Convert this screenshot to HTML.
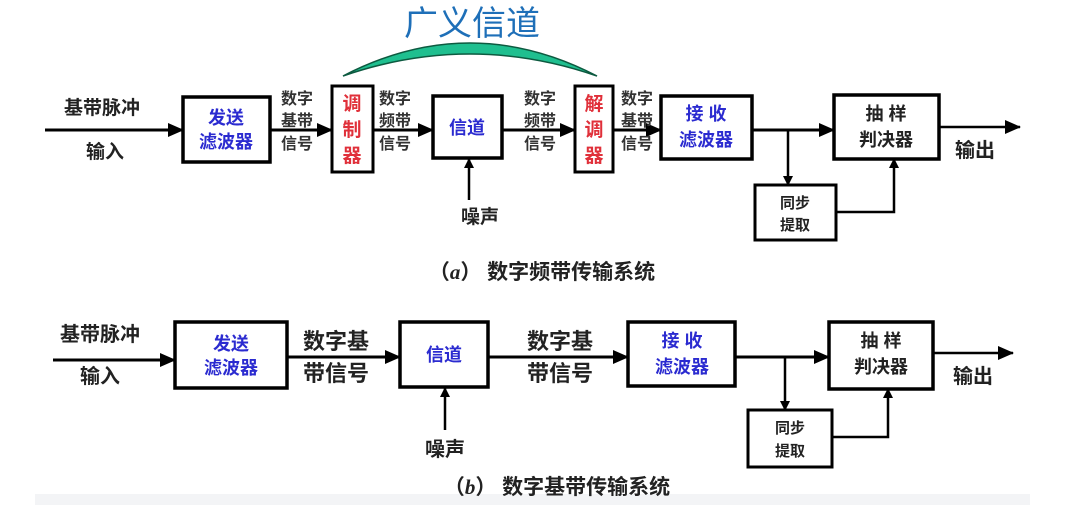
<!DOCTYPE html>
<html><head><meta charset="utf-8"><style>
html,body{margin:0;padding:0;background:#fff;}
svg{display:block;}
text{font-family:"Liberation Sans","Noto Sans CJK SC",sans-serif;font-weight:bold;}
</style></head><body>
<svg width="1073" height="505" viewBox="0 0 1073 505" xmlns="http://www.w3.org/2000/svg">
<defs>
<marker id="ar" markerWidth="10" markerHeight="10" refX="9" refY="5" orient="auto" markerUnits="userSpaceOnUse">
<path d="M0,0 L10,5 L0,10 Z" fill="#000"/></marker>
<marker id="ab" markerWidth="16" markerHeight="14" refX="15" refY="7" orient="auto" markerUnits="userSpaceOnUse">
<path d="M0,0 L16,7 L0,14 Z" fill="#000"/></marker>
</defs>
<rect x="35" y="494" width="995" height="11" fill="#f3f4f6"/>
<text x="472" y="35" font-size="34" fill="#1e6fb8" text-anchor="middle" style="font-weight:normal">广义信道</text>
<path d="M343,76 Q470,10 597,76 Q470,32 343,76 Z" fill="#1fbf8f" stroke="#0d5a40" stroke-width="1.5"/>

<g stroke="#000" fill="none">
<rect x="183" y="97" width="87" height="65" stroke-width="3.5"/>
<rect x="332" y="86" width="41" height="86" stroke-width="3"/>
<rect x="433" y="96" width="69" height="62" stroke-width="3.5"/>
<rect x="575" y="86" width="38" height="86" stroke-width="3"/>
<rect x="661" y="96" width="91" height="63" stroke-width="3.5"/>
<rect x="834" y="95" width="105" height="64" stroke-width="3.5"/>
<rect x="755" y="185" width="81" height="55" stroke-width="3"/>
<line x1="45" y1="130" x2="183" y2="130" stroke-width="3" marker-end="url(#ab)"/>
<line x1="270" y1="130" x2="332" y2="130" stroke-width="3" marker-end="url(#ab)"/>
<line x1="373" y1="130" x2="433" y2="130" stroke-width="3" marker-end="url(#ab)"/>
<line x1="502" y1="130" x2="575" y2="130" stroke-width="3" marker-end="url(#ab)"/>
<line x1="613" y1="130" x2="661" y2="130" stroke-width="3" marker-end="url(#ab)"/>
<line x1="752" y1="130" x2="834" y2="130" stroke-width="3" marker-end="url(#ab)"/>
<line x1="469" y1="200" x2="469" y2="159" stroke-width="2.5" marker-end="url(#ar)"/>
<line x1="788" y1="130" x2="788" y2="185" stroke-width="2.5" marker-end="url(#ar)"/>
<polyline points="836,212 894,212 894,159" stroke-width="2.5" marker-end="url(#ar)"/>
<line x1="939" y1="127" x2="1020" y2="127" stroke-width="2.5" marker-end="url(#ab)"/>
<rect x="175" y="322" width="112" height="66" stroke-width="3.5"/>
<rect x="400" y="322" width="88" height="65" stroke-width="3.5"/>
<rect x="628" y="322" width="107" height="64" stroke-width="3.5"/>
<rect x="829" y="322" width="104" height="67" stroke-width="3.5"/>
<rect x="748" y="410" width="84" height="57" stroke-width="3"/>
<line x1="53" y1="360" x2="175" y2="360" stroke-width="3" marker-end="url(#ab)"/>
<line x1="287" y1="357" x2="400" y2="357" stroke-width="3" marker-end="url(#ab)"/>
<line x1="488" y1="357" x2="628" y2="357" stroke-width="3" marker-end="url(#ab)"/>
<line x1="735" y1="357" x2="829" y2="357" stroke-width="3" marker-end="url(#ab)"/>
<line x1="445" y1="430" x2="445" y2="388" stroke-width="2.5" marker-end="url(#ar)"/>
<line x1="785" y1="357" x2="785" y2="410" stroke-width="2.5" marker-end="url(#ar)"/>
<polyline points="832,437 888,437 888,389" stroke-width="2.5" marker-end="url(#ar)"/>
<line x1="933" y1="353" x2="1013" y2="353" stroke-width="2.5" marker-end="url(#ab)"/>
</g>

<g font-size="18" fill="#222">
<text x="102" y="114" text-anchor="middle" font-size="19">基带脉冲</text>
<text x="105" y="158" text-anchor="middle" font-size="19">输入</text>
<text x="226" y="124" text-anchor="middle" fill="#2b2bd0">发送</text>
<text x="226" y="148" text-anchor="middle" fill="#2b2bd0">滤波器</text>
<g font-size="16" fill="#333">
<text x="297" y="104" text-anchor="middle">数字</text>
<text x="297" y="126" text-anchor="middle">基带</text>
<text x="297" y="149" text-anchor="middle">信号</text>
<text x="395" y="104" text-anchor="middle">数字</text>
<text x="395" y="126" text-anchor="middle">频带</text>
<text x="395" y="149" text-anchor="middle">信号</text>
<text x="540" y="104" text-anchor="middle">数字</text>
<text x="540" y="126" text-anchor="middle">频带</text>
<text x="540" y="149" text-anchor="middle">信号</text>
<text x="637" y="104" text-anchor="middle">数字</text>
<text x="637" y="126" text-anchor="middle">基带</text>
<text x="637" y="149" text-anchor="middle">信号</text>
</g>
<g fill="#e0303a" text-anchor="middle" font-size="19">
<text x="352" y="110">调</text><text x="352" y="136">制</text><text x="352" y="162">器</text>
<text x="594" y="110">解</text><text x="594" y="136">调</text><text x="594" y="162">器</text>
</g>
<text x="467" y="134" text-anchor="middle" fill="#2b2bd0">信道</text>
<text x="480" y="223" text-anchor="middle" font-size="19">噪声</text>
<text x="706" y="120" text-anchor="middle" fill="#2b2bd0">接 收</text>
<text x="706" y="146" text-anchor="middle" fill="#2b2bd0">滤波器</text>
<text x="886" y="120" text-anchor="middle">抽 样</text>
<text x="886" y="146" text-anchor="middle">判决器</text>
<text x="795" y="208" text-anchor="middle" font-size="15">同步</text>
<text x="795" y="230" text-anchor="middle" font-size="15">提取</text>
<text x="975" y="157" text-anchor="middle" font-size="20">输出</text>
<text x="542" y="279" text-anchor="middle" font-size="21">（<tspan font-style="italic" font-family="Liberation Serif">a</tspan>） 数字频带传输系统</text>
<text x="100" y="341" text-anchor="middle" font-size="20">基带脉冲</text>
<text x="100" y="383" text-anchor="middle" font-size="20">输入</text>
<text x="231" y="350" text-anchor="middle" fill="#2b2bd0">发送</text>
<text x="231" y="374" text-anchor="middle" fill="#2b2bd0">滤波器</text>
<text x="336" y="349" text-anchor="middle" font-size="22">数字基</text>
<text x="336" y="381" text-anchor="middle" font-size="22">带信号</text>
<text x="444" y="361" text-anchor="middle" fill="#2b2bd0">信道</text>
<text x="560" y="349" text-anchor="middle" font-size="22">数字基</text>
<text x="560" y="381" text-anchor="middle" font-size="22">带信号</text>
<text x="445" y="456" text-anchor="middle" font-size="20">噪声</text>
<text x="682" y="347" text-anchor="middle" fill="#2b2bd0">接 收</text>
<text x="682" y="373" text-anchor="middle" fill="#2b2bd0">滤波器</text>
<text x="881" y="347" text-anchor="middle">抽 样</text>
<text x="881" y="373" text-anchor="middle">判决器</text>
<text x="790" y="433" text-anchor="middle" font-size="15">同步</text>
<text x="790" y="456" text-anchor="middle" font-size="15">提取</text>
<text x="973" y="383" text-anchor="middle" font-size="20">输出</text>
<text x="557" y="494" text-anchor="middle" font-size="21">（<tspan font-style="italic" font-family="Liberation Serif">b</tspan>） 数字基带传输系统</text>
</g>
</svg>
</body></html>
